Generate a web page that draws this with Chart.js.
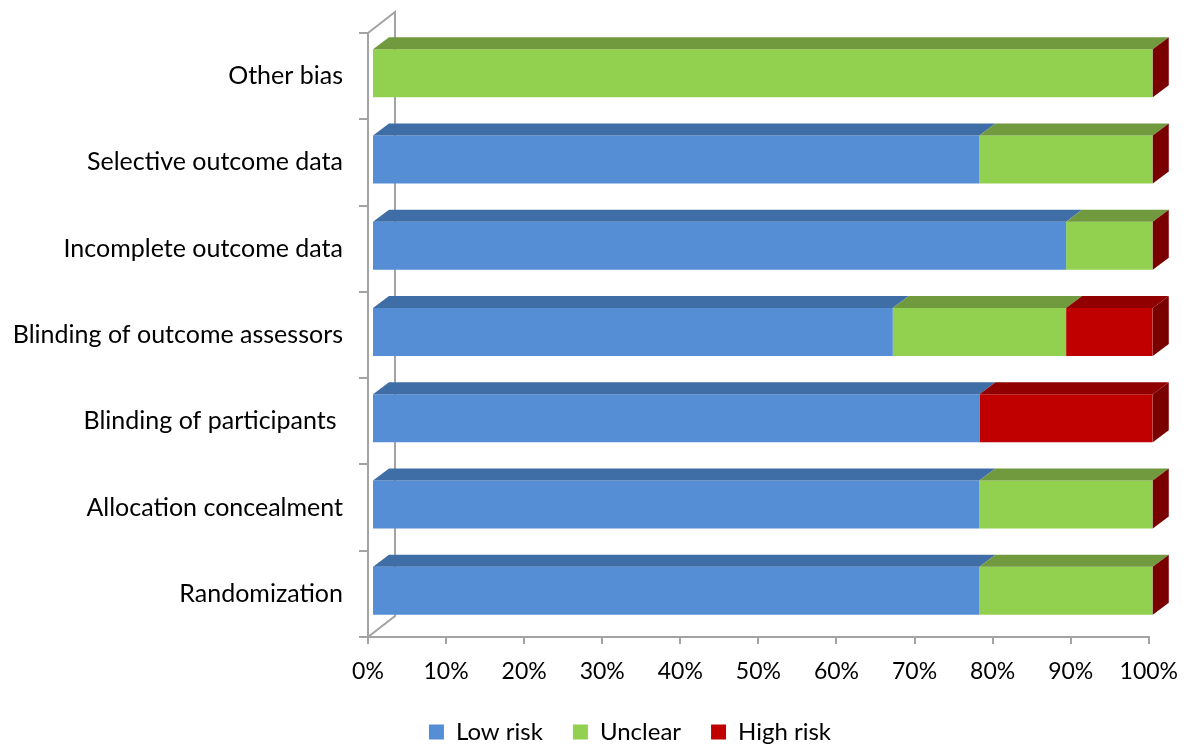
<!DOCTYPE html>
<html>
<head>
<meta charset="utf-8">
<script src="https://cdn.jsdelivr.net/npm/chart.js@4/dist/chart.umd.min.js"></script>
<style>
  html, body { margin: 0; padding: 0; background: #ffffff; }
  #wrap { width: 1192px; height: 754px; }
</style>
</head>
<body>
<div id="wrap"><canvas id="chart" width="1192" height="754"></canvas></div>
<script>
// Risk-of-bias domains, listed top to bottom
const domains = [
  'Other bias',
  'Selective outcome data',
  'Incomplete outcome data',
  'Blinding of outcome assessors',
  'Blinding of participants ',
  'Allocation concealment',
  'Randomization'
];

// Share of studies (%) per judgement
const lowRisk  = [0,   77.8, 88.9, 66.7, 77.8, 77.8, 77.8];
const unclear  = [100, 22.2, 11.1, 22.2, 0,    22.2, 22.2];
const highRisk = [0,   0,    0,    11.1, 22.2, 0,    0];

const seriesNames = ['Low risk', 'Unclear', 'High risk'];
const xTicks = [0, 10, 20, 30, 40, 50, 60, 70, 80, 90, 100];

// Face colours: front, top, side
const shades = [
  { front: '#558ED5', top: '#3F6EA6', side: '#2F5583' },
  { front: '#92D050', top: '#71993E', side: '#5A7D2E' },
  { front: '#C00000', top: '#900000', side: '#7A0000' }
];

const AXIS_GREY = '#A3A3A3';
const FONT = 'Lato, "Open Sans", "DejaVu Sans", sans-serif';

// Depth of the pseudo-3D bars and of the wall behind them
const BAR_SHIFT = { x: 4, y: 3 };
const BAR_DEPTH = { x: 16, y: 12 };
const WALL_DEPTH = { x: 27, y: 21 };

const PLOT_LEFT = 368;
// the legend row is centred over a band that starts this far from the left edge
const LEGEND_INSET = 110;

const legendInset = {
  id: 'legendInset',
  afterLayout(chart) {
    if (chart.legend) chart.legend.left += LEGEND_INSET;
  }
};

const depth3d = {
  id: 'depth3d',
  beforeDatasetsDraw(chart) {
    const { ctx, chartArea: { left, top, bottom } } = chart;
    ctx.save();
    ctx.strokeStyle = AXIS_GREY;
    ctx.lineWidth = 2;
    ctx.beginPath();
    ctx.moveTo(left, top);
    ctx.lineTo(left + WALL_DEPTH.x, top - WALL_DEPTH.y);
    ctx.lineTo(left + WALL_DEPTH.x, bottom - WALL_DEPTH.y);
    ctx.lineTo(left, bottom);
    ctx.stroke();
    ctx.restore();
    ctx.save();
    ctx.translate(BAR_SHIFT.x, -BAR_SHIFT.y);
  },
  afterDatasetsDraw(chart) {
    const ctx = chart.ctx;
    const n = chart.data.datasets.length;
    const poly = (pts, color) => {
      ctx.beginPath();
      ctx.moveTo(pts[0][0], pts[0][1]);
      for (let k = 1; k < pts.length; k++) ctx.lineTo(pts[k][0], pts[k][1]);
      ctx.closePath();
      ctx.fillStyle = color;
      ctx.fill();
    };
    for (let i = 0; i < n; i++) {
      const meta = chart.getDatasetMeta(i);
      meta.data.forEach(bar => {
        const { x, y, base, height } = bar.getProps(['x', 'y', 'base', 'height'], true);
        const t = y - height / 2;
        if (x - base > 0.01) {
          poly([[base, t], [x, t], [x + BAR_DEPTH.x, t - BAR_DEPTH.y], [base + BAR_DEPTH.x, t - BAR_DEPTH.y]], shades[i].top);
        }
      });
    }
    // closing side face at the end of each stack
    const last = chart.getDatasetMeta(n - 1);
    last.data.forEach(bar => {
      const { x, y, height } = bar.getProps(['x', 'y', 'height'], true);
      const t = y - height / 2, b = y + height / 2;
      poly([[x, t], [x + BAR_DEPTH.x, t - BAR_DEPTH.y], [x + BAR_DEPTH.x, b - BAR_DEPTH.y], [x, b]], shades[n - 1].side);
    });
    ctx.restore();
  }
};

const values = [lowRisk, unclear, highRisk];

new Chart(document.getElementById('chart'), {
  type: 'bar',
  data: {
    labels: domains,
    datasets: seriesNames.map((name, i) => ({
      label: name,
      data: values[i],
      backgroundColor: shades[i].front,
      borderWidth: 0,
      categoryPercentage: 1,
      barPercentage: 0.556
    }))
  },
  options: {
    indexAxis: 'y',
    responsive: false,
    animation: false,
    devicePixelRatio: 1,
    layout: { padding: { top: 33, right: 42, left: 0, bottom: 0 } },
    plugins: {
      tooltip: { enabled: false },
      legend: {
        position: 'bottom',
        labels: {
          boxWidth: 15,
          boxHeight: 15,
          padding: 30,
          color: '#000000',
          font: { family: FONT, size: 24 }
        }
      }
    },
    scales: {
      x: {
        stacked: true,
        min: 0,
        max: 100,
        afterBuildTicks(scale) { scale.ticks = xTicks.map(v => ({ value: v })); },
        afterFit(scale) { scale.height = 53; },
        grid: { drawOnChartArea: false, drawTicks: true, tickLength: 7, color: AXIS_GREY, lineWidth: 2 },
        border: { display: true, color: AXIS_GREY, width: 2 },
        ticks: {
          padding: 14,
          maxRotation: 0,
          color: '#000000',
          font: { family: FONT, size: 23 },
          callback: v => v + '%'
        }
      },
      y: {
        stacked: true,
        afterFit(scale) { scale.width = PLOT_LEFT; },
        grid: { drawOnChartArea: false, drawTicks: true, tickLength: 9, offset: true, color: AXIS_GREY, lineWidth: 2 },
        border: { display: true, color: AXIS_GREY, width: 2 },
        ticks: {
          padding: 16,
          color: '#000000',
          font: { family: FONT, size: 25 }
        }
      }
    }
  },
  plugins: [depth3d, legendInset]
});
</script>
</body>
</html>
